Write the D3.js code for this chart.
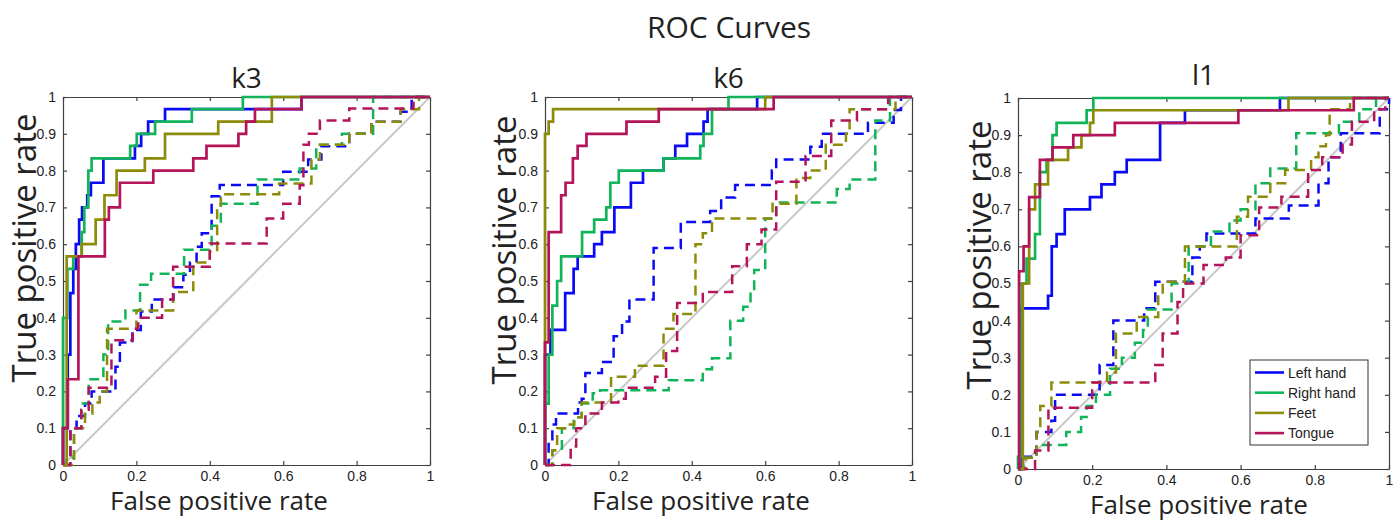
<!DOCTYPE html>
<html lang="en">
<head>
  <meta charset="utf-8" />
  <title>ROC Curves</title>
  <script src="https://cdn.jsdelivr.net/npm/d3@7"></script>
  <style>
    body { margin:0; background:#fff; }
    svg text { font-family:"Liberation Sans", Arial, sans-serif; fill:#222; }
    .lbl { font-family:"Open Sans", "Noto Sans", sans-serif !important; }
    .axis path, .axis line { stroke:#404040; stroke-width:1.2; }
    .axis text { font-size:14px; }
  </style>
</head>
<body>
<svg id="chart" width="1393" height="521"></svg>
<script>
// ---- data -----------------------------------------------------------------
const classNames  = ["Left hand", "Right hand", "Feet", "Tongue"];
const classColors = ["#0a0af5", "#12b45a", "#8c8c0a", "#b4145a"];
const panelTitles = ["k3", "k6", "l1"];
const xTicks = [0, 0.2, 0.4, 0.6, 0.8, 1];
const yTicks = [0, 0.1, 0.2, 0.3, 0.4, 0.5, 0.6, 0.7, 0.8, 0.9, 1];

// k3 – solid (classifier) curves  [fpr, tpr]
const k3Left = [[0,0],[0,0.1],[0.013,0.1],[0.013,0.3],[0.02,0.3],[0.02,0.467],[0.028,0.467],[0.028,0.533],[0.035,0.533],[0.035,0.6],[0.044,0.6],[0.044,0.667],[0.052,0.667],[0.052,0.7],[0.066,0.7],[0.066,0.733],[0.076,0.733],[0.076,0.767],[0.11,0.767],[0.11,0.833],[0.196,0.833],[0.196,0.867],[0.213,0.867],[0.213,0.9],[0.232,0.9],[0.232,0.933],[0.278,0.933],[0.278,0.967],[0.65,0.967],[0.65,1],[1,1]];
const k3Right = [[0,0],[0,0.4],[0.012,0.4],[0.012,0.533],[0.028,0.533],[0.028,0.567],[0.051,0.567],[0.051,0.633],[0.058,0.633],[0.058,0.7],[0.069,0.7],[0.069,0.8],[0.078,0.8],[0.078,0.833],[0.183,0.833],[0.183,0.867],[0.201,0.867],[0.201,0.9],[0.251,0.9],[0.251,0.933],[0.351,0.933],[0.351,0.967],[0.49,0.967],[0.49,1],[1,1]];
const k3Feet = [[0,0],[0.01,0],[0.01,0.567],[0.051,0.567],[0.051,0.6],[0.089,0.6],[0.089,0.667],[0.113,0.667],[0.113,0.733],[0.146,0.733],[0.146,0.8],[0.223,0.8],[0.223,0.833],[0.278,0.833],[0.278,0.9],[0.423,0.9],[0.423,0.933],[0.569,0.933],[0.569,1],[1,1]];
const k3Tongue = [[0,0],[0,0.1],[0.013,0.1],[0.013,0.233],[0.042,0.233],[0.042,0.567],[0.114,0.567],[0.114,0.667],[0.125,0.667],[0.125,0.7],[0.155,0.7],[0.155,0.767],[0.246,0.767],[0.246,0.8],[0.355,0.8],[0.355,0.833],[0.391,0.833],[0.391,0.867],[0.478,0.867],[0.478,0.9],[0.499,0.9],[0.499,0.933],[0.523,0.933],[0.523,0.967],[0.65,0.967],[0.65,1],[1,1]];
// k3 – dashed curves
const k3LeftD = [[0,0],[0.02,0],[0.02,0.1],[0.037,0.1],[0.037,0.133],[0.06,0.133],[0.06,0.167],[0.078,0.167],[0.078,0.2],[0.143,0.2],[0.143,0.267],[0.155,0.267],[0.155,0.333],[0.189,0.333],[0.189,0.367],[0.212,0.367],[0.212,0.417],[0.242,0.417],[0.242,0.45],[0.301,0.45],[0.301,0.483],[0.328,0.483],[0.328,0.517],[0.346,0.517],[0.346,0.55],[0.364,0.55],[0.364,0.593],[0.378,0.593],[0.378,0.63],[0.405,0.63],[0.405,0.73],[0.427,0.73],[0.427,0.761],[0.6,0.761],[0.6,0.797],[0.668,0.797],[0.668,0.83],[0.704,0.83],[0.704,0.866],[0.78,0.866],[0.78,0.9],[0.84,0.9],[0.84,0.933],[0.92,0.933],[0.92,0.96],[0.95,0.96],[0.95,1],[1,1]];
const k3RightD = [[0,0],[0.01,0],[0.01,0.02],[0.03,0.02],[0.03,0.1],[0.05,0.1],[0.05,0.167],[0.07,0.167],[0.07,0.233],[0.11,0.233],[0.11,0.3],[0.123,0.3],[0.123,0.39],[0.17,0.39],[0.17,0.42],[0.21,0.42],[0.21,0.49],[0.24,0.49],[0.24,0.52],[0.33,0.52],[0.33,0.585],[0.405,0.585],[0.405,0.65],[0.43,0.65],[0.43,0.71],[0.53,0.71],[0.53,0.776],[0.645,0.776],[0.645,0.806],[0.69,0.806],[0.69,0.87],[0.76,0.87],[0.76,0.9],[0.845,0.9],[0.845,1],[1,1]];
const k3FeetD = [[0,0],[0.03,0],[0.03,0.1],[0.06,0.1],[0.06,0.14],[0.08,0.14],[0.08,0.17],[0.1,0.17],[0.1,0.2],[0.12,0.2],[0.12,0.37],[0.2,0.37],[0.2,0.42],[0.3,0.42],[0.3,0.47],[0.355,0.47],[0.355,0.55],[0.4,0.55],[0.4,0.58],[0.42,0.58],[0.42,0.7],[0.43,0.7],[0.43,0.736],[0.589,0.736],[0.589,0.765],[0.677,0.765],[0.677,0.83],[0.7,0.83],[0.7,0.87],[0.78,0.87],[0.78,0.9],[0.84,0.9],[0.84,0.933],[0.92,0.933],[0.92,0.967],[0.97,0.967],[0.97,1],[1,1]];
const k3TongueD = [[0,0],[0.02,0],[0.02,0.1],[0.05,0.1],[0.05,0.15],[0.07,0.15],[0.07,0.21],[0.132,0.21],[0.132,0.339],[0.19,0.339],[0.19,0.37],[0.205,0.37],[0.205,0.4],[0.27,0.4],[0.27,0.45],[0.3,0.45],[0.3,0.539],[0.4,0.539],[0.4,0.602],[0.555,0.602],[0.555,0.67],[0.6,0.67],[0.6,0.71],[0.645,0.71],[0.645,0.76],[0.655,0.76],[0.655,0.87],[0.67,0.87],[0.67,0.9],[0.7,0.9],[0.7,0.936],[0.78,0.936],[0.78,0.969],[0.955,0.969],[0.955,1],[1,1]];

// k6 – solid curves
const k6Left = [[0,0],[0,0.3],[0.015,0.3],[0.015,0.367],[0.055,0.367],[0.055,0.467],[0.078,0.467],[0.078,0.533],[0.089,0.533],[0.089,0.567],[0.134,0.567],[0.134,0.6],[0.155,0.6],[0.155,0.633],[0.189,0.633],[0.189,0.7],[0.234,0.7],[0.234,0.767],[0.267,0.767],[0.267,0.8],[0.323,0.8],[0.323,0.833],[0.355,0.833],[0.355,0.867],[0.387,0.867],[0.387,0.9],[0.432,0.9],[0.432,0.933],[0.443,0.933],[0.443,0.967],[0.578,0.967],[0.578,1],[1,1]];
const k6Right = [[0,0],[0,0.167],[0.01,0.167],[0.01,0.3],[0.02,0.3],[0.02,0.433],[0.033,0.433],[0.033,0.5],[0.044,0.5],[0.044,0.567],[0.101,0.567],[0.101,0.633],[0.134,0.633],[0.134,0.667],[0.167,0.667],[0.167,0.7],[0.178,0.7],[0.178,0.767],[0.201,0.767],[0.201,0.8],[0.323,0.8],[0.323,0.833],[0.423,0.833],[0.423,0.867],[0.432,0.867],[0.432,0.9],[0.455,0.9],[0.455,0.967],[0.5,0.967],[0.5,1],[1,1]];
const k6Feet = [[0,0],[0,0.9],[0.01,0.9],[0.01,0.933],[0.022,0.933],[0.022,0.967],[0.6,0.967],[0.6,1],[1,1]];
const k6Tongue = [[0,0],[0,0.333],[0.01,0.333],[0.01,0.633],[0.044,0.633],[0.044,0.733],[0.056,0.733],[0.056,0.767],[0.076,0.767],[0.076,0.833],[0.089,0.833],[0.089,0.867],[0.113,0.867],[0.113,0.9],[0.222,0.9],[0.222,0.933],[0.31,0.933],[0.31,0.967],[0.623,0.967],[0.623,1],[1,1]];
// k6 – dashed curves
const k6LeftD = [[0,0],[0.01,0],[0.01,0.07],[0.02,0.07],[0.02,0.11],[0.03,0.11],[0.03,0.14],[0.09,0.14],[0.09,0.17],[0.1,0.17],[0.1,0.18],[0.11,0.18],[0.11,0.25],[0.155,0.25],[0.155,0.28],[0.187,0.28],[0.187,0.35],[0.21,0.35],[0.21,0.39],[0.23,0.39],[0.23,0.45],[0.296,0.45],[0.296,0.59],[0.37,0.59],[0.37,0.66],[0.45,0.66],[0.45,0.69],[0.48,0.69],[0.48,0.727],[0.518,0.727],[0.518,0.761],[0.618,0.761],[0.618,0.8],[0.63,0.8],[0.63,0.83],[0.723,0.83],[0.723,0.865],[0.754,0.865],[0.754,0.9],[0.88,0.9],[0.88,0.93],[0.95,0.93],[0.95,0.965],[0.97,0.965],[0.97,1],[1,1]];
const k6RightD = [[0,0],[0.02,0],[0.02,0.04],[0.046,0.04],[0.046,0.1],[0.078,0.1],[0.078,0.13],[0.1,0.13],[0.1,0.167],[0.13,0.167],[0.13,0.195],[0.15,0.195],[0.15,0.203],[0.337,0.203],[0.337,0.23],[0.43,0.23],[0.43,0.26],[0.455,0.26],[0.455,0.29],[0.505,0.29],[0.505,0.392],[0.54,0.392],[0.54,0.43],[0.56,0.43],[0.56,0.47],[0.57,0.47],[0.57,0.53],[0.6,0.53],[0.6,0.67],[0.63,0.67],[0.63,0.713],[0.795,0.713],[0.795,0.75],[0.83,0.75],[0.83,0.776],[0.9,0.776],[0.9,0.936],[0.94,0.936],[0.94,1],[1,1]];
const k6FeetD = [[0,0],[0.02,0],[0.02,0.04],[0.033,0.04],[0.033,0.1],[0.06,0.1],[0.06,0.11],[0.08,0.11],[0.08,0.13],[0.1,0.13],[0.1,0.17],[0.18,0.17],[0.18,0.24],[0.245,0.24],[0.245,0.27],[0.323,0.27],[0.323,0.37],[0.35,0.37],[0.35,0.41],[0.41,0.41],[0.41,0.6],[0.43,0.6],[0.43,0.63],[0.455,0.63],[0.455,0.67],[0.62,0.67],[0.62,0.71],[0.685,0.71],[0.685,0.78],[0.723,0.78],[0.723,0.8],[0.765,0.8],[0.765,0.87],[0.82,0.87],[0.82,0.9],[0.83,0.9],[0.83,0.967],[0.955,0.967],[0.955,1],[1,1]];
const k6TongueD = [[0,0],[0.07,0],[0.07,0.05],[0.085,0.05],[0.085,0.1],[0.11,0.1],[0.11,0.14],[0.155,0.14],[0.155,0.17],[0.2,0.17],[0.2,0.18],[0.22,0.18],[0.22,0.21],[0.3,0.21],[0.3,0.24],[0.33,0.24],[0.33,0.31],[0.36,0.31],[0.36,0.44],[0.43,0.44],[0.43,0.47],[0.51,0.47],[0.51,0.54],[0.55,0.54],[0.55,0.6],[0.59,0.6],[0.59,0.64],[0.63,0.64],[0.63,0.77],[0.71,0.77],[0.71,0.84],[0.78,0.84],[0.78,0.936],[0.85,0.936],[0.85,0.967],[0.935,0.967],[0.935,1],[1,1]];

// l1 – solid curves
const l1Left = [[0,0],[0.01,0],[0.01,0.433],[0.081,0.433],[0.081,0.467],[0.091,0.467],[0.091,0.6],[0.104,0.6],[0.104,0.633],[0.126,0.633],[0.126,0.7],[0.194,0.7],[0.194,0.733],[0.225,0.733],[0.225,0.767],[0.261,0.767],[0.261,0.8],[0.293,0.8],[0.293,0.833],[0.383,0.833],[0.383,0.933],[0.45,0.933],[0.45,0.967],[0.706,0.967],[0.706,1],[1,1]];
const l1Right = [[0,0],[0,0.033],[0.01,0.033],[0.01,0.5],[0.023,0.5],[0.023,0.567],[0.046,0.567],[0.046,0.633],[0.059,0.633],[0.059,0.8],[0.077,0.8],[0.077,0.833],[0.093,0.833],[0.093,0.867],[0.093,0.9],[0.104,0.9],[0.104,0.933],[0.185,0.933],[0.185,0.967],[0.203,0.967],[0.203,1],[1,1]];
const l1Feet = [[0,0],[0.013,0],[0.013,0.5],[0.03,0.5],[0.03,0.7],[0.046,0.7],[0.046,0.767],[0.081,0.767],[0.081,0.833],[0.135,0.833],[0.135,0.867],[0.171,0.867],[0.171,0.9],[0.194,0.9],[0.194,0.933],[0.203,0.933],[0.203,0.967],[0.729,0.967],[0.729,1],[1,1]];
const l1Tongue = [[0,0],[0.003,0],[0.003,0.533],[0.015,0.533],[0.015,0.6],[0.03,0.6],[0.03,0.733],[0.059,0.733],[0.059,0.833],[0.093,0.833],[0.093,0.867],[0.149,0.867],[0.149,0.9],[0.261,0.9],[0.261,0.933],[0.594,0.933],[0.594,0.967],[0.905,0.967],[0.905,1],[1,1]];
// l1 – dashed curves
const l1LeftD = [[0,0],[0.014,0],[0.014,0.033],[0.05,0.033],[0.05,0.1],[0.09,0.1],[0.09,0.13],[0.1,0.13],[0.1,0.2],[0.22,0.2],[0.22,0.28],[0.257,0.28],[0.257,0.4],[0.34,0.4],[0.34,0.433],[0.37,0.433],[0.37,0.505],[0.47,0.505],[0.47,0.57],[0.49,0.57],[0.49,0.6],[0.508,0.6],[0.508,0.635],[0.64,0.635],[0.64,0.675],[0.73,0.675],[0.73,0.71],[0.81,0.71],[0.81,0.77],[0.837,0.77],[0.837,0.84],[0.87,0.84],[0.87,0.905],[0.975,0.905],[0.975,0.97],[1,0.97],[1,1]];
const l1RightD = [[0,0],[0.01,0],[0.01,0.03],[0.05,0.03],[0.05,0.065],[0.13,0.065],[0.13,0.1],[0.17,0.1],[0.17,0.14],[0.185,0.14],[0.185,0.17],[0.21,0.17],[0.21,0.2],[0.248,0.2],[0.248,0.27],[0.28,0.27],[0.28,0.3],[0.315,0.3],[0.315,0.34],[0.337,0.34],[0.337,0.375],[0.35,0.375],[0.35,0.43],[0.414,0.43],[0.414,0.5],[0.46,0.5],[0.46,0.6],[0.52,0.6],[0.52,0.64],[0.57,0.64],[0.57,0.67],[0.6,0.67],[0.6,0.7],[0.64,0.7],[0.64,0.77],[0.68,0.77],[0.68,0.81],[0.75,0.81],[0.75,0.905],[0.865,0.905],[0.865,0.936],[0.92,0.936],[0.92,0.97],[0.965,0.97],[0.965,1],[1,1]];
const l1FeetD = [[0,0],[0.02,0],[0.02,0.03],[0.05,0.03],[0.05,0.1],[0.06,0.1],[0.06,0.17],[0.09,0.17],[0.09,0.233],[0.24,0.233],[0.24,0.26],[0.264,0.26],[0.264,0.365],[0.32,0.365],[0.32,0.41],[0.378,0.41],[0.378,0.47],[0.39,0.47],[0.39,0.505],[0.45,0.505],[0.45,0.6],[0.59,0.6],[0.59,0.68],[0.62,0.68],[0.62,0.734],[0.68,0.734],[0.68,0.77],[0.72,0.77],[0.72,0.806],[0.79,0.806],[0.79,0.84],[0.81,0.84],[0.81,0.87],[0.83,0.87],[0.83,0.9],[0.84,0.9],[0.84,0.97],[0.895,0.97],[0.895,1],[1,1]];
const l1TongueD = [[0,0],[0.046,0],[0.046,0.05],[0.082,0.05],[0.082,0.165],[0.2,0.165],[0.2,0.233],[0.37,0.233],[0.37,0.28],[0.39,0.28],[0.39,0.365],[0.43,0.365],[0.43,0.45],[0.445,0.45],[0.445,0.5],[0.5,0.5],[0.5,0.55],[0.56,0.55],[0.56,0.57],[0.6,0.57],[0.6,0.63],[0.65,0.63],[0.65,0.705],[0.71,0.705],[0.71,0.734],[0.782,0.734],[0.782,0.806],[0.82,0.806],[0.82,0.84],[0.875,0.84],[0.875,0.875],[0.9,0.875],[0.9,0.936],[0.96,0.936],[0.96,0.97],[0.99,0.97],[0.99,1],[1,1]];

// ---- layout ---------------------------------------------------------------
const panels = [
  { title:panelTitles[0], box:{l:63,  t:97, r:430,  b:465}, titleY:88, xLab:[219,510], yLab:[36,248],
    solid:[k3Left,k3Right,k3Feet,k3Tongue], dashed:[k3LeftD,k3RightD,k3FeetD,k3TongueD] },
  { title:panelTitles[1], box:{l:545, t:97, r:912,  b:465}, titleY:88, xLab:[701,510], yLab:[516,250],
    solid:[k6Left,k6Right,k6Feet,k6Tongue], dashed:[k6LeftD,k6RightD,k6FeetD,k6TongueD] },
  { title:panelTitles[2], box:{l:1018,t:98, r:1389, b:469}, titleY:85, xLab:[1199,514], yLab:[991,255],
    solid:[l1Left,l1Right,l1Feet,l1Tongue], dashed:[l1LeftD,l1RightD,l1FeetD,l1TongueD], legend:true }
];

const svg = d3.select("#chart");

svg.append("text")
  .attr("class", "lbl")
  .attr("x", 729).attr("y", 38)
  .attr("text-anchor", "middle")
  .style("font-size", "30px")
  .text("ROC Curves");

panels.forEach(p => {
  const B = p.box;
  const x = d3.scaleLinear().domain([0, 1]).range([B.l, B.r]);
  const y = d3.scaleLinear().domain([0, 1]).range([B.b, B.t]);
  const g = svg.append("g");

  g.append("rect")
    .attr("x", B.l).attr("y", B.t)
    .attr("width", B.r - B.l).attr("height", B.b - B.t)
    .attr("fill", "#fff");

  // axes, inward ticks on all four sides
  g.append("g").attr("class", "axis").attr("transform", `translate(0,${B.b})`)
    .call(d3.axisBottom(x).tickValues(xTicks).tickSizeInner(-4).tickSizeOuter(0).tickPadding(6).tickFormat(d3.format("~g")));
  g.append("g").attr("class", "axis").attr("transform", `translate(${B.l},0)`)
    .call(d3.axisLeft(y).tickValues(yTicks).tickSizeInner(-4).tickSizeOuter(0).tickPadding(7).tickFormat(d3.format("~g")));
  g.append("g").attr("class", "axis").attr("transform", `translate(0,${B.t})`)
    .call(d3.axisTop(x).tickValues(xTicks).tickSizeInner(-4).tickSizeOuter(0).tickFormat(""));
  g.append("g").attr("class", "axis").attr("transform", `translate(${B.r},0)`)
    .call(d3.axisRight(y).tickValues(yTicks).tickSizeInner(-4).tickSizeOuter(0).tickFormat(""));

  const line = d3.line().x(d => x(d[0])).y(d => y(d[1]));

  // chance diagonal
  g.append("path").datum([[0,0],[1,1]])
    .attr("d", line).attr("fill", "none")
    .attr("stroke", "#c8c8c8").attr("stroke-width", 2);

  p.dashed.forEach((c, i) => {
    g.append("path").datum(c).attr("d", line).attr("fill", "none")
      .attr("stroke", classColors[i]).attr("stroke-width", 2.5)
      .attr("stroke-dasharray", "10,6");
  });
  p.solid.forEach((c, i) => {
    g.append("path").datum(c).attr("d", line).attr("fill", "none")
      .attr("stroke", classColors[i]).attr("stroke-width", 2.7);
  });

  // titles & labels
  svg.append("text").attr("class", "lbl")
    .attr("x", (B.l + B.r) / 2).attr("y", p.titleY)
    .attr("text-anchor", "middle").style("font-size", "28px")
    .text(p.title);
  svg.append("text").attr("class", "lbl")
    .attr("x", p.xLab[0]).attr("y", p.xLab[1])
    .attr("text-anchor", "middle").style("font-size", "26px")
    .text("False positive rate");
  svg.append("text").attr("class", "lbl")
    .attr("transform", `translate(${p.yLab[0]},${p.yLab[1]}) rotate(-90)`)
    .attr("text-anchor", "middle").style("font-size", "33px")
    .text("True positive rate");

  if (p.legend) {
    const lg = svg.append("g").attr("transform", "translate(1250,360)");
    lg.append("rect").attr("width", 118).attr("height", 85)
      .attr("fill", "#fff").attr("stroke", "#333").attr("stroke-width", 1);
    classNames.forEach((n, i) => {
      const yy = 12.5 + i * 20.2;
      lg.append("line").attr("x1", 5).attr("x2", 34).attr("y1", yy).attr("y2", yy)
        .attr("stroke", classColors[i]).attr("stroke-width", 2.6);
      lg.append("text").attr("x", 38).attr("y", yy + 5)
        .style("font-size", "14px").text(n);
    });
  }
});
</script>
</body>
</html>
